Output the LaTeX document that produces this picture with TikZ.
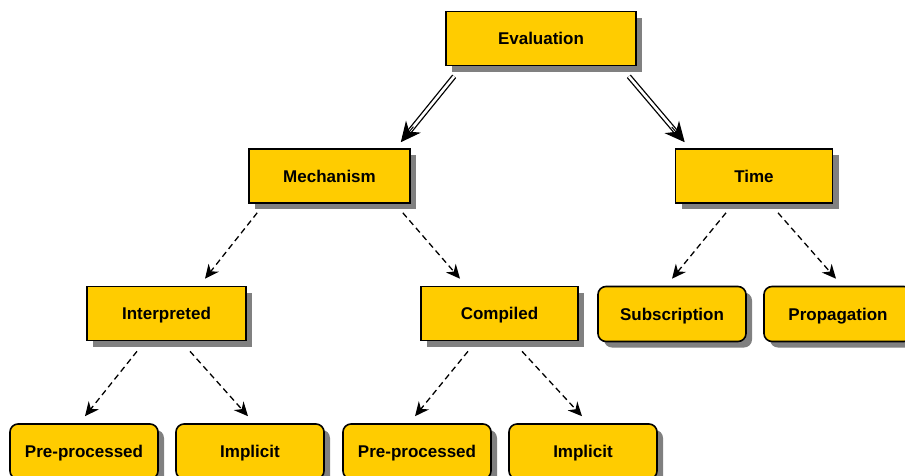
\documentclass[tikz,border=0pt]{standalone}
\usepackage{fontspec}
\setmainfont{Liberation Sans}
\usetikzlibrary{arrows.meta,calc,shadows}
\definecolor{boxgold}{HTML}{FFCC00}
\definecolor{shadowgray}{HTML}{808080}
\begin{document}
\begin{tikzpicture}[x=1pt,y=-1pt,
  box/.style={draw=black, line width=1.6pt, fill=boxgold, text=black,
    font=\fontsize{17}{19}\selectfont\bfseries, inner sep=0pt,
    text height=12.2pt, text depth=0pt,
    drop shadow={shadow xshift=6pt, shadow yshift=-6pt, fill=shadowgray, opacity=1}},
  catbox/.style={box, rectangle, minimum width=#1, minimum height=54pt},
  leafbox/.style={box, rounded corners=8pt, minimum width=148pt, minimum height=55pt},
  dasharrow/.style={draw=black, line width=1.3pt, dash pattern=on 6pt off 4pt,
    -{Stealth[length=14pt,width=13pt]}},
  dblshaft/.style={draw=black, line width=1.3pt, double=white, double distance=2.6pt,
    shorten >=12pt},
  dblhead/.style={draw=black, line width=1pt, -{Stealth[length=20pt,width=19pt]}}
]
\clip (0,0) rectangle (905,475);

% category boxes
\node[catbox=190pt] (eval)   at (541,38.5)   {Evaluation};
\node[catbox=161pt] (mech)   at (329.5,176)  {Mechanism};
\node[catbox=157pt] (time)   at (754,176)    {Time};
\node[catbox=159pt] (interp) at (166.5,313.5){Interpreted};
\node[catbox=157pt] (comp)   at (499.5,313.5){Compiled};

% leaf boxes
\node[leafbox] (subs) at (672,314)   {Subscription};
\node[leafbox] (prop) at (838,314)   {Propagation};
\node[leafbox] (ppa)  at (84,451.5)  {Pre-processed};
\node[leafbox] (impa) at (250,451.5) {Implicit};
\node[leafbox] (ppb)  at (417,451.5) {Pre-processed};
\node[leafbox] (impb) at (583,451.5) {Implicit};

% end points of the connectors
\coordinate (e1s) at ($(eval.south west)+(9,10)$);
\coordinate (e1e) at ($(mech.north east)+(-10,-6)$);
\coordinate (e2s) at ($(eval.south east)+(-8,10)$);
\coordinate (e2e) at ($(time.north west)+(10,-6)$);

% double arrows from the root
\draw[dblshaft] (e1s) -- (e1e);
\draw[dblhead] ($(e1e)!20pt!(e1s)$) -- (e1e);
\draw[dblshaft] (e2s) -- (e2e);
\draw[dblhead] ($(e2e)!20pt!(e2s)$) -- (e2e);

% dashed arrows
\draw[dasharrow] ($(mech.south west)+(9,9)$)   -- ($(interp.north)+(38.5,-7)$);
\draw[dasharrow] ($(mech.south east)+(-8,9)$)  -- ($(comp.north)+(-39.5,-7)$);
\draw[dasharrow] ($(time.south)+(-28,9)$)      -- ($(subs.north)+(0,-7)$);
\draw[dasharrow] ($(time.south)+(24,9)$)       -- ($(prop.north)+(-2,-7)$);
\draw[dasharrow] ($(interp.south)+(-29.5,10)$) -- ($(ppa.north)+(1,-7)$);
\draw[dasharrow] ($(interp.south)+(23.5,10)$)  -- ($(impa.north)+(-2,-7)$);
\draw[dasharrow] ($(comp.south)+(-31.5,10)$)   -- ($(ppb.north)+(-2,-7)$);
\draw[dasharrow] ($(comp.south)+(22.5,10)$)    -- ($(impb.north)+(-1,-7)$);
\end{tikzpicture}
\end{document}
